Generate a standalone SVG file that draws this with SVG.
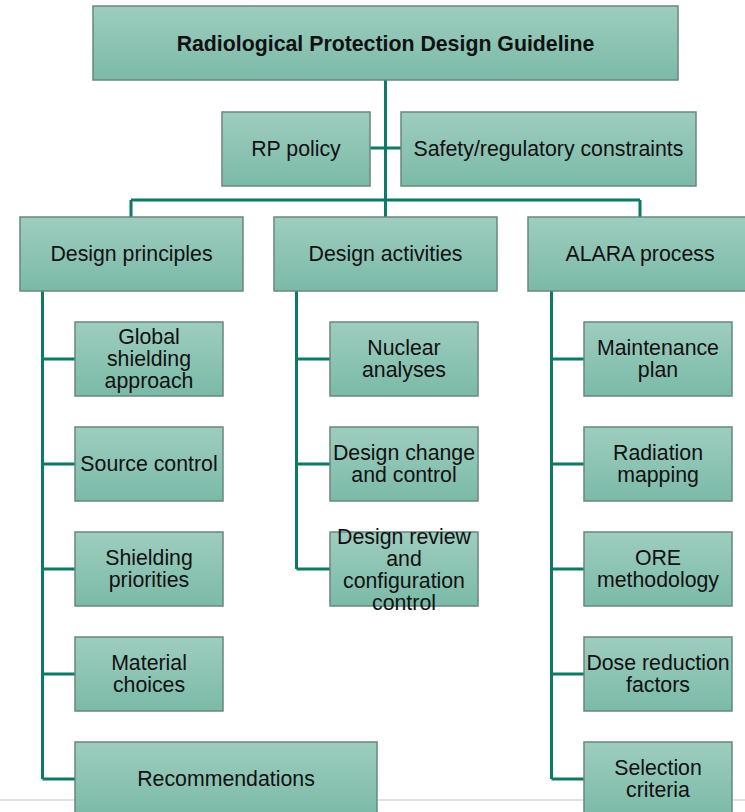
<svg xmlns="http://www.w3.org/2000/svg" width="745" height="812" viewBox="0 0 745 812">
<defs>
<linearGradient id="g" x1="0" y1="0" x2="0" y2="1">
<stop offset="0" stop-color="#9ecdbf"/>
<stop offset="1" stop-color="#7bbaa8"/>
</linearGradient>
</defs>
<style>
.box{fill:url(#g);stroke:#6a877f;stroke-width:1.5}
.t{font-family:"Liberation Sans",Arial,sans-serif;font-size:21.3px;fill:#111;text-anchor:middle}
.b{font-weight:bold}
.c{fill:none;stroke:#0c7a67;stroke-width:3}
</style>
<rect x="0" y="0" width="745" height="812" fill="#fff"/>
<line x1="0" y1="800" x2="745" y2="800" stroke="#e2e2e2" stroke-width="2"/>
<g id="connectors">
<path class="c" d="M385.5 80 V200 M370 148 H401 M131 200 H640 M131 200 V217 M385.5 200 V217 M640 200 V217"/>
<path class="c" d="M42.5 291 V779 M42.5 359 H75 M42.5 464 H75 M42.5 569 H75 M42.5 674 H75 M42.5 779 H75"/>
<path class="c" d="M296.5 291 V569 M296.5 359 H330 M296.5 464 H330 M296.5 569 H330"/>
<path class="c" d="M551.5 291 V779 M551.5 359 H584 M551.5 464 H584 M551.5 569 H584 M551.5 674 H584 M551.5 779 H584"/>
</g>
<g id="root"><rect class="box" x="93" y="6" width="585" height="74"/><text class="t b" x="385.5" y="50.5">Radiological Protection Design Guideline</text></g>
<g id="rp"><rect class="box" x="222" y="112" width="148" height="74"/><text class="t" x="296" y="156">RP policy</text></g>
<g id="safety"><rect class="box" x="401" y="112" width="295" height="74"/><text class="t" x="548.5" y="156">Safety/regulatory constraints</text></g>
<g id="principles"><rect class="box" x="20" y="217" width="223" height="74"/><text class="t" x="131.5" y="261">Design principles</text></g>
<g id="activities"><rect class="box" x="274" y="217" width="223" height="74"/><text class="t" x="385.5" y="261">Design activities</text></g>
<g id="alara"><rect class="box" x="528" y="217" width="225" height="74"/><text class="t" x="640" y="261">ALARA process</text></g>
<g id="global"><rect class="box" x="75" y="322" width="148" height="74"/><text class="t" x="149" y="344">Global</text><text class="t" x="149" y="366">shielding</text><text class="t" x="149" y="388">approach</text></g>
<g id="source"><rect class="box" x="75" y="427" width="148" height="74"/><text class="t" x="149" y="471">Source control</text></g>
<g id="priorities"><rect class="box" x="75" y="532" width="148" height="74"/><text class="t" x="149" y="565">Shielding</text><text class="t" x="149" y="587">priorities</text></g>
<g id="material"><rect class="box" x="75" y="637" width="148" height="74"/><text class="t" x="149" y="670">Material</text><text class="t" x="149" y="692">choices</text></g>
<g id="recommendations"><rect class="box" x="75" y="742" width="302" height="74"/><text class="t" x="226" y="786">Recommendations</text></g>
<g id="nuclear"><rect class="box" x="330" y="322" width="148" height="74"/><text class="t" x="404" y="355">Nuclear</text><text class="t" x="404" y="377">analyses</text></g>
<g id="change"><rect class="box" x="330" y="427" width="148" height="74"/><text class="t" x="404" y="460">Design change</text><text class="t" x="404" y="482">and control</text></g>
<g id="review"><rect class="box" x="330" y="532" width="148" height="74"/><text class="t" x="404" y="543.5">Design review</text><text class="t" x="404" y="565.5">and</text><text class="t" x="404" y="587.5">configuration</text><text class="t" x="404" y="609.5">control</text></g>
<g id="maintenance"><rect class="box" x="584" y="322" width="148" height="74"/><text class="t" x="658" y="355">Maintenance</text><text class="t" x="658" y="377">plan</text></g>
<g id="mapping"><rect class="box" x="584" y="427" width="148" height="74"/><text class="t" x="658" y="460">Radiation</text><text class="t" x="658" y="482">mapping</text></g>
<g id="ore"><rect class="box" x="584" y="532" width="148" height="74"/><text class="t" x="658" y="565">ORE</text><text class="t" x="658" y="587">methodology</text></g>
<g id="dose"><rect class="box" x="584" y="637" width="148" height="74"/><text class="t" x="658" y="670">Dose reduction</text><text class="t" x="658" y="692">factors</text></g>
<g id="selection"><rect class="box" x="584" y="742" width="148" height="74"/><text class="t" x="658" y="775">Selection</text><text class="t" x="658" y="797">criteria</text></g>
</svg>
